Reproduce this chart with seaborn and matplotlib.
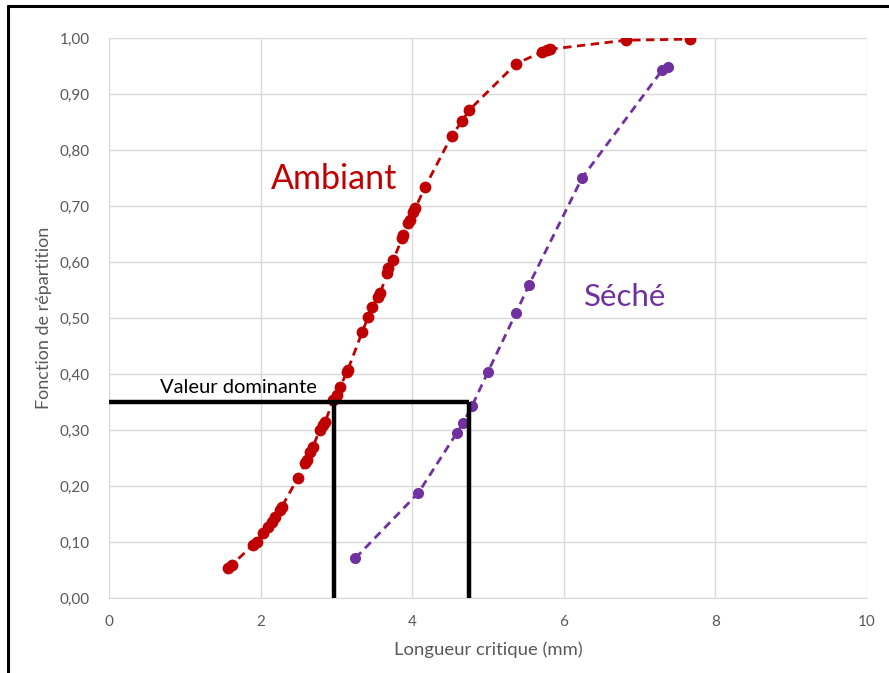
import matplotlib
matplotlib.use("Agg")
import matplotlib.pyplot as plt
import seaborn as sns
import pandas as pd
from matplotlib.lines import Line2D
from matplotlib.ticker import FuncFormatter

# --- data -----------------------------------------------------------
ambiant_x = [1.57, 1.62, 1.90, 1.95, 2.03, 2.10, 2.15, 2.19, 2.26, 2.28,
             2.49, 2.59, 2.61, 2.65, 2.69, 2.78, 2.82, 2.85, 2.96, 3.01,
             3.05, 3.14, 3.15, 3.34, 3.42, 3.47, 3.55, 3.58, 3.67, 3.68,
             3.75, 3.87, 3.88, 3.94, 3.97, 4.01, 4.04, 4.17, 4.52, 4.66,
             4.75, 5.37, 5.71, 5.78, 5.82, 6.82, 7.66]
ambiant_y = [0.054, 0.059, 0.095, 0.100, 0.116, 0.127, 0.136, 0.145, 0.157, 0.163,
             0.214, 0.241, 0.246, 0.260, 0.270, 0.300, 0.309, 0.314, 0.354, 0.362,
             0.377, 0.404, 0.407, 0.475, 0.502, 0.520, 0.538, 0.545, 0.580, 0.589,
             0.604, 0.643, 0.648, 0.670, 0.675, 0.689, 0.696, 0.734, 0.825, 0.852,
             0.871, 0.954, 0.975, 0.979, 0.980, 0.996, 0.998]

seche_x = [3.25, 4.08, 4.59, 4.67, 4.79, 5.00, 5.37, 5.54, 6.24, 7.30, 7.37]
seche_y = [0.071, 0.1875, 0.295, 0.3125, 0.343, 0.404, 0.509, 0.559, 0.750, 0.943, 0.948]

dominant_level = 0.35
dominant_x = [2.97, 4.75]

x_ticks = [0, 2, 4, 6, 8, 10]
y_ticks = [0.0, 0.1, 0.2, 0.3, 0.4, 0.5, 0.6, 0.7, 0.8, 0.9, 1.0]

RED = "#C00000"
PURPLE = "#7030A0"
GREY = "#595959"

# --- style ----------------------------------------------------------
sns.set_style("white")
plt.rcParams["font.family"] = ["Lato", "DejaVu Sans"]

fig = plt.figure(figsize=(8.89, 6.73), dpi=100)
ax = fig.add_axes([109 / 889, 1 - 598 / 673, (867 - 109) / 889, (598 - 38) / 673])

df_a = pd.DataFrame({"x": ambiant_x, "y": ambiant_y})
df_s = pd.DataFrame({"x": seche_x, "y": seche_y})

sns.lineplot(data=df_a, x="x", y="y", ax=ax, color=RED, linestyle=(0, (3, 2)),
             linewidth=2, marker="o", markersize=8.5, markeredgewidth=0, sort=False, zorder=3)
sns.lineplot(data=df_s, x="x", y="y", ax=ax, color=PURPLE, linestyle=(0, (3, 2)),
             linewidth=2, marker="o", markersize=8, markeredgewidth=0, sort=False, zorder=3)

# dominant value box
ax.plot([0, dominant_x[1]], [dominant_level, dominant_level], color="black", lw=3.2,
        solid_capstyle="butt", zorder=4, clip_on=False)
for xv in dominant_x:
    ax.plot([xv, xv], [0, dominant_level], color="black", lw=3.2,
            solid_capstyle="butt", zorder=4, clip_on=False)

ax.set_xlim(0, 10)
ax.set_ylim(0, 1)
ax.set_xticks(x_ticks)
ax.set_yticks(y_ticks)
ax.xaxis.set_major_formatter(FuncFormatter(lambda v, p: f"{v:.0f}"))
ax.yaxis.set_major_formatter(FuncFormatter(lambda v, p: f"{v:.2f}".replace(".", ",")))
ax.grid(True, color="#D9D9D9", linewidth=1)
ax.set_axisbelow(True)
for s in ["top", "right", "left"]:
    ax.spines[s].set_visible(False)
ax.spines["bottom"].set_color("#D9D9D9")
ax.tick_params(axis="both", length=0, labelsize=11, labelcolor=GREY)
ax.tick_params(axis="y", pad=14)
ax.tick_params(axis="x", pad=12)

ax.set_xlabel("Longueur critique (mm)", fontsize=13.3, color=GREY, labelpad=9)
ax.set_ylabel("Fonction de répartition", fontsize=13, color=GREY, labelpad=5)

ax.text(2.14, 0.731, "Ambiant", color=RED, fontsize=24.5, ha="left", va="baseline")
ax.text(6.26, 0.521, "Séché", color=PURPLE, fontsize=22.5, ha="left", va="baseline")
ax.text(0.67, 0.366, "Valeur dominante", color="black", fontsize=14.5, ha="left", va="baseline")

# outer frame (top and left edges visible)
fig.add_artist(Line2D([8 / 889, 1.0], [1 - 6 / 673, 1 - 6 / 673], color="black", lw=2.2,
                     transform=fig.transFigure))
fig.add_artist(Line2D([8 / 889, 8 / 889], [0.0, 1 - 6 / 673], color="black", lw=2.2,
                     transform=fig.transFigure))

fig.savefig("out.png", dpi=100)
